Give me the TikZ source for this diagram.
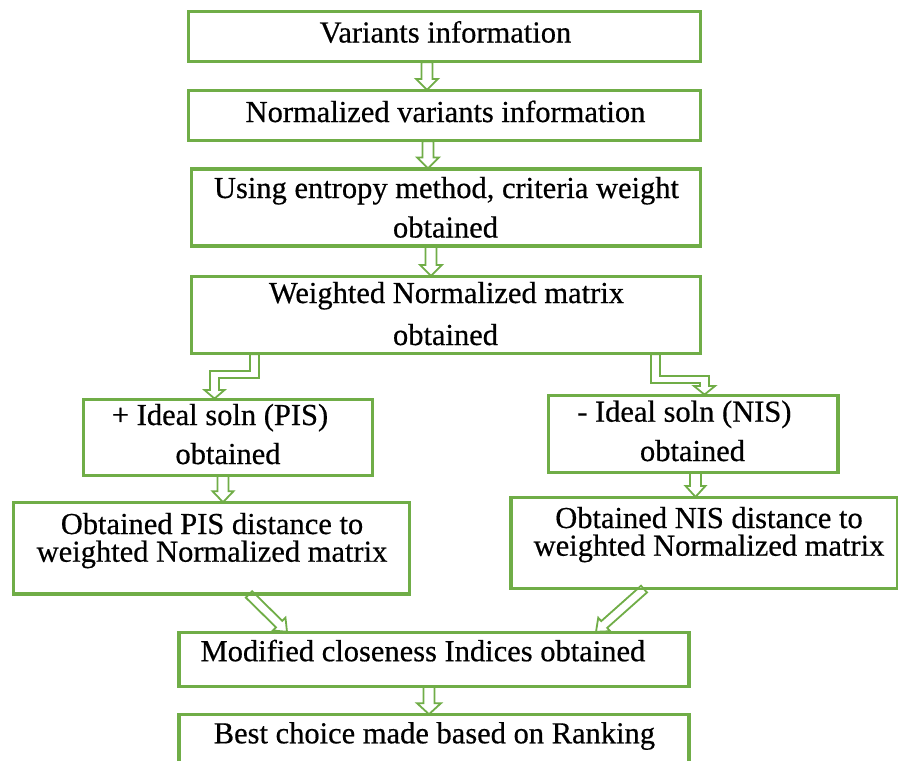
\documentclass[tikz,border=0pt]{standalone}
\usepackage{fontspec}
\setmainfont{Liberation Serif}
\newfontfamily\diagfont{Liberation Serif}[FakeBold=0.5]
\usetikzlibrary{calc}
\definecolor{boxgreen}{RGB}{112,173,71}
\tikzset{
  box/.style={draw=boxgreen, line width=2.2pt, rectangle, inner sep=0pt},
  txt/.style={inner sep=0pt, font=\diagfont\fontsize{30.5pt}{39pt}\selectfont, text=black},
  arrowline/.style={draw=boxgreen, fill=white, line width=1.8pt, line join=miter},
}
\newcommand\hollowarrow[4]{%
  \path (#1) coordinate (hA) (#2) coordinate (hB);
  \path ($(hB)!11pt!(hA)$) coordinate (hH);
  \draw[arrowline] ($(hA)!#3!90:(hB)$) -- ($(hH)!#3!90:(hB)$) -- ($(hH)!#4!90:(hB)$) -- (hB)
     -- ($(hH)!#4!-90:(hB)$) -- ($(hH)!#3!-90:(hB)$) -- ($(hA)!#3!-90:(hB)$) -- cycle;}
\begin{document}
\begin{tikzpicture}[x=1pt,y=-1pt]
\useasboundingbox (0,0) rectangle (898,761);
\fill[white] (0,0) rectangle (898,761);
% box nodes (outlines)
\node[box, minimum width=511pt, minimum height=49pt] (b1) at (444.5,36.5) {};
\node[box, minimum width=511pt, minimum height=49pt] (b2) at (444.5,115.5) {};
\node[box, minimum width=508pt, minimum height=76pt] (b3) at (446,207.5) {};
\node[box, minimum width=508pt, minimum height=76pt] (b4) at (446,315) {};
\node[box, minimum width=288pt, minimum height=75pt] (pis) at (227.7,437.2) {};
\node[box, minimum width=288pt, minimum height=76pt] (nis) at (693.3,433.7) {};
\node[box, minimum width=395pt, minimum height=90pt] (pisd) at (211.5,548.3) {};
\node[box, minimum width=386pt, minimum height=90pt] (nisd) at (704.5,543) {};
\node[box, minimum width=509pt, minimum height=53pt] (mod) at (434,659.4) {};
\node[box, minimum width=509pt, minimum height=60pt] (best) at (434,745.3) {};
% straight hollow arrows
\hollowarrow{b1.south -| 427,0}{b2.north -| 427,0}{5.5pt}{11pt}
\hollowarrow{b2.south -| 428,0}{b3.north -| 428,0}{5.5pt}{11pt}
\hollowarrow{b3.south -| 431,0}{b4.north -| 431,0}{5.5pt}{11pt}
\hollowarrow{pis.south -| 223,0}{pisd.north -| 223,0}{5.5pt}{10.5pt}
\hollowarrow{nis.south -| 695.5,0}{nisd.north -| 695.5,0}{5.5pt}{10pt}
\hollowarrow{mod.south -| 429,0}{best.north -| 429,0}{5.5pt}{12pt}
\hollowarrow{pisd.south -| 249,0}{mod.north -| 287,0}{4.5pt}{9pt}
\hollowarrow{nisd.south -| 644,0}{mod.north -| 596,0}{4.5pt}{9pt}
% elbow hollow arrows
\draw[arrowline] (b4.south -| 250,0) -- (250,371) -- (210,371) -- (210,390) -- (204.5,390)
  -- (pis.north -| 214.5,0) -- (224.5,390) -- (219,390) -- (219,378) -- (259,378) -- (b4.south -| 259,0) -- cycle;
\draw[arrowline] (b4.south -| 651,0) -- (651,383) -- (700,383) -- (700,386) -- (694,386)
  -- (nis.north -| 704.5,0) -- (715,386) -- (709,386) -- (709,376) -- (660,376) -- (b4.south -| 660,0) -- cycle;
% redraw boxes over arrow ends
\foreach \n in {b1,b2,b3,b4,pis,nis,pisd,nisd,mod,best}
  \draw[draw=boxgreen, line width=2.2pt] (\n.north west) rectangle (\n.south east);
% texts
\node[txt, anchor=base] (t1) at (445.5,42.5) {Variants information};
\node[txt, anchor=base] (t2) at (445.5,122) {Normalized variants information};
\node[txt, anchor=base] (t3a) at (446.5,198) {Using entropy method, criteria weight};
\node[txt, anchor=base] (t3b) at (445.5,237.5) {obtained};
\node[txt, anchor=base] (t4a) at (446.5,303) {Weighted Normalized matrix};
\node[txt, anchor=base] (t4b) at (445.5,345) {obtained};
\node[txt, anchor=base west] (t5a) at (111.7,425) {+ Ideal soln (PIS)};
\node[txt, anchor=base] (t5b) at (228,464) {obtained};
\node[txt, anchor=base west] (t6a) at (577,421.7) {- Ideal soln (NIS)};
\node[txt, anchor=base] (t6b) at (692.5,461) {obtained};
\node[txt, anchor=base] (t7a) at (212,534) {Obtained PIS distance to};
\node[txt, anchor=base] (t7b) at (212,561.7) {weighted Normalized matrix};
\node[txt, anchor=base] (t8a) at (709,528) {Obtained NIS distance to};
\node[txt, anchor=base] (t8b) at (709,555.7) {weighted Normalized matrix};
\node[txt, anchor=base west] (t9) at (200.4,661.2) {Modified closeness Indices obtained};
\node[txt, anchor=base] (t10) at (434.4,743.3) {Best choice made based on Ranking};
\end{tikzpicture}
\end{document}
